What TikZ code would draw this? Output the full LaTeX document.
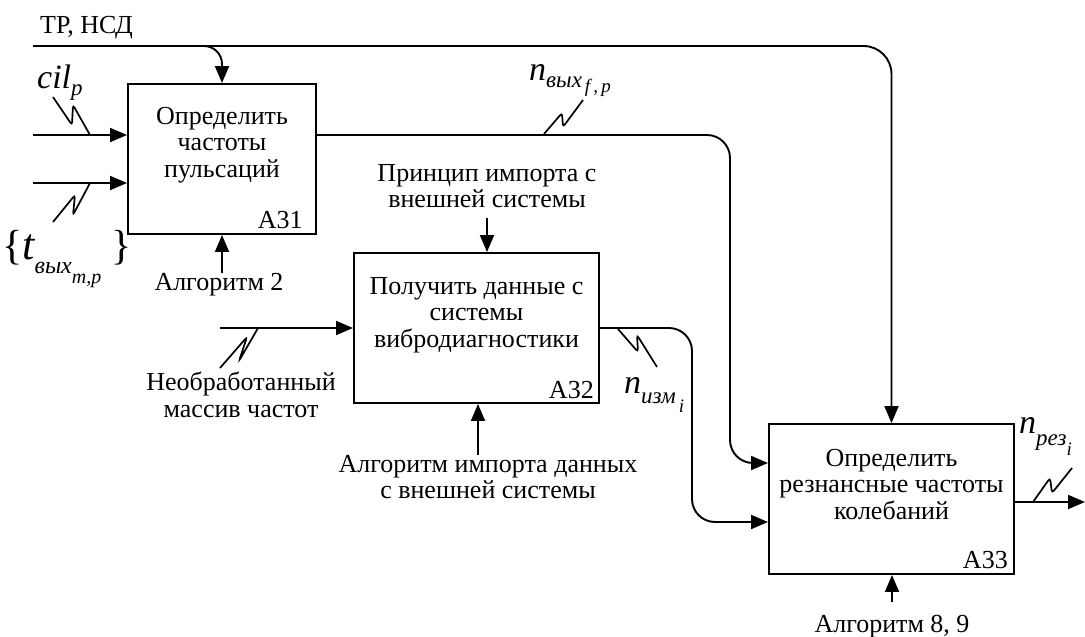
\documentclass[tikz,border=0pt]{standalone}
\usepackage{fontspec}
\setmainfont{Liberation Serif}
\usetikzlibrary{arrows.meta,calc}
\tikzset{
  blk/.style={draw, line width=1.9pt, inner sep=0pt, minimum height=150pt},
  arr/.style={line width=1.9pt, -{Triangle[length=17pt,width=14pt]}},
  sq/.style={line width=1.7pt, rounded corners=3pt},
  txt/.style={font=\fontsize{26}{26.5}\selectfont, align=center, inner sep=0pt},
  mth/.style={inner sep=0pt, anchor=base west},
}
\newcommand\bigI[1]{{\fontsize{34}{34}\selectfont\itshape #1}}
\newcommand\subI[1]{{\fontsize{23}{23}\selectfont\itshape #1}}
\newcommand\subII[1]{{\fontsize{19}{19}\selectfont\itshape #1}}
\begin{document}
\begin{tikzpicture}[x=1pt,y=-1pt]
\useasboundingbox (0,0) rectangle (1085,637);
% boxes
\node[blk, minimum width=188pt] (A31) at (222,159) {};
\node[blk, minimum width=245pt] (A32) at (476.5,328) {};
\node[blk, minimum width=245pt] (A33) at (891.5,499) {};
% box texts
\node[txt, anchor=north] (t31) at ($(A31.north)+(0,24)$) {Определить\\частоты\\пульсаций};
\node[txt, anchor=north] (t32) at ($(A32.north)+(0,25)$) {Получить данные с\\системы\\вибродиагностики};
\node[txt, anchor=north] (t33) at ($(A33.north)+(0,26)$) {Определить\\резнансные частоты\\колебаний};
\node[txt, anchor=base east] (n31) at ($(A31.south east)+(-14,-6)$) {A31};
\node[txt, anchor=base east] (n32) at ($(A32.south east)+(-6,-5)$) {A32};
\node[txt, anchor=base east] (n33) at ($(A33.south east)+(-7,-6)$) {A33};
% outside labels
\node[txt, anchor=base west] (trn) at (40,33) {ТР, НСД};
\node[txt, anchor=north] (alg2) at (219,273) {Алгоритм 2};
\node[txt, anchor=north] (princ) at (487,164) {Принцип импорта с\\внешней системы};
\node[txt, anchor=north] (raw) at (241,372) {Необработанный\\массив частот};
\node[txt, anchor=north] (algimp) at (488,455) {Алгоритм импорта данных\\с внешней системы};
\node[txt, anchor=north] (alg89) at (892,615) {Алгоритм 8, 9};
% math labels
\node[mth] (cil) at (37,88) {\bigI{cil}\raisebox{-7pt}{\subI{p}}};
\node[mth] (tvyx) at (2,259) {{\fontsize{42}{42}\selectfont\{}{\fontsize{44}{44}\selectfont\itshape t}\raisebox{-14pt}{{\fontsize{24}{24}\selectfont\itshape вых}\raisebox{-10pt}{{\fontsize{20}{20}\selectfont\itshape m,p}}}\hspace{10pt}{\fontsize{42}{42}\selectfont\}}};
\node[mth] (nvyx) at (529,80) {\bigI{n}\raisebox{-7pt}{\subI{вых}\raisebox{-5pt}{\subII{\hspace{3pt}f\,,\,p}}}};
\node[mth] (nizm) at (624,393) {\bigI{n}\raisebox{-10pt}{\subI{изм}\raisebox{-9pt}{\subII{\,i}}}};
\node[mth] (nrez) at (1019,433) {\bigI{n}\raisebox{-12pt}{\subI{рез}\raisebox{-10pt}{\subII{i}}}};
% coordinates
\coordinate (trs) at (33,46);
\coordinate (trb) at (200,46);
\coordinate (cin) at (33,135);
\coordinate (tin) at (33,183);
\coordinate (c31) at (730,463);
\coordinate (nin) at (220,328);
\coordinate (c32) at (692,522);
\coordinate (m32) at (478,455);
\coordinate (m33) at (892,602);
\coordinate (o33) at (1085,502);
% connectors
\draw[arr, rounded corners=28pt] (trs) -| (A33.north);
\draw[arr, rounded corners=18pt] (trb) -| (A31.north);
\draw[arr] (cin) -- (cin -| A31.west);
\draw[arr] (tin) -- (tin -| A31.west);
\draw[arr] (alg2.north -| A31.south) -- (A31.south);
\draw[arr, rounded corners=23pt] (A31.east |- cin) -| (c31) -- (c31 -| A33.west);
\draw[arr] (nin) -- (A32.west);
\draw[arr] ($(princ.south)+(0,10)$) -- (princ.south |- A32.north);
\draw[arr] (m32) -- (m32 |- A32.south);
\draw[arr, rounded corners=23pt] (A32.east) -| (c32) -- (c32 -| A33.west);
\draw[arr] (m33) -- (m33 |- A33.south);
\draw[arr] (A33.east |- o33) -- (o33);
% squiggles
\draw[sq] (90,135) -- (73,105) -- (72,125) -- (53,97);
\draw[sq] (90,183) -- (73,215) -- (75,195) -- (53,222);
\draw[sq] (544,134) -- (562,113) -- (563,127) -- (583,100);
\draw[sq] (618,329) -- (638,352) -- (637,335) -- (657,367);
\draw[sq] (258,328) -- (239,361) -- (247,337) -- (220,368);
\draw[sq] (1033,502) -- (1050,478) -- (1052,493) -- (1072,468);
\end{tikzpicture}
\end{document}
